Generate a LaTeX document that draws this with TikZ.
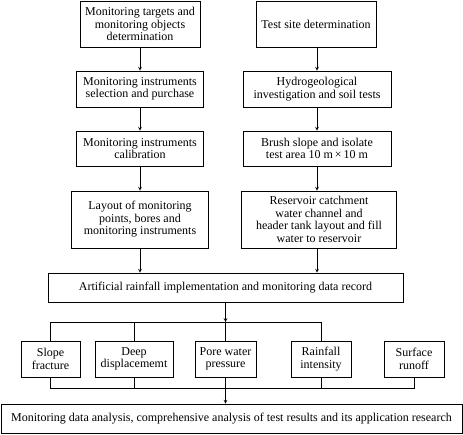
\documentclass[tikz,border=0pt]{standalone}
\usepackage{fontspec}
\setmainfont{Liberation Serif}
\begin{document}
\begin{tikzpicture}[x=1pt,y=-1pt,>=stealth,line width=0.7pt,
  box/.style={draw,align=center,inner sep=0pt,font=\fontsize{12}{12.5}\selectfont}]
  \useasboundingbox (0,0) rectangle (463,434);
  % left column
  \node[box,minimum width=120,minimum height=46] (tgt) at (140,24) {Monitoring targets and\\monitoring objects\\determination};
  \node[box,minimum width=127,minimum height=36] (sel) at (140,89) {Monitoring instruments\\selection and purchase};
  \node[box,minimum width=127,minimum height=35] (cal) at (140,148.5) {Monitoring instruments\\calibration};
  \node[box,minimum width=137,minimum height=57] (lay) at (140,219.5) {Layout of monitoring\\points, bores and\\monitoring instruments};
  % right column
  \node[box,minimum width=120,minimum height=46] (site) at (316,24) {Test site determination};
  \node[box,minimum width=148,minimum height=36] (hyd) at (317,89) {Hydrogeological\\investigation and soil tests};
  \node[box,minimum width=148,minimum height=35] (brush) at (317,148.5) {Brush slope and isolate\\test area 10 m\,×\,10 m};
  \node[box,minimum width=155,minimum height=57] (res) at (319,219.5) {Reservoir catchment\\water channel and\\header tank layout and fill\\water to reservoir};
  % rainfall and measured items
  \node[box,minimum width=355,minimum height=29] (rain) at (225.5,287.5) {Artificial rainfall implementation and monitoring data record};
  \node[box,minimum width=59,minimum height=36] (slope) at (50.5,359) {Slope\\fracture};
  \node[box,minimum width=78,minimum height=36] (deep) at (134,359) {Deep\\displacememt};
  \node[box,minimum width=61,minimum height=36] (pore) at (225.5,359) {Pore water\\pressure};
  \node[box,minimum width=60,minimum height=36] (rainf) at (321,359) {Rainfall\\intensity};
  \node[box,minimum width=60,minimum height=36] (surf) at (414,359) {Surface\\runoff};
  \node[box,minimum width=461,minimum height=29] (final) at (231.5,418.5) {Monitoring data analysis, comprehensive analysis of test results and its application research};
  \coordinate (tbus) at (0,322);
  \coordinate (bbus) at (0,388);
  % column arrows
  \draw[->] (tgt.south -| sel) -- (sel.north);
  \draw[->] (sel) -- (cal);
  \draw[->] (cal) -- (lay);
  \draw[->] (lay.south) -- (lay.south |- rain.north);
  \draw[->] (site.south -| brush) -- (hyd.north -| brush);
  \draw[->] (hyd) -- (brush);
  \draw[->] (brush.south) -- (res.north -| brush);
  \draw[->] (res.south -| brush) -- (rain.north -| brush);
  % buses
  \draw[->] (rain.south -| pore) -- (pore |- tbus);
  \draw (pore |- tbus) -- (pore.north);
  \draw (slope.north) |- (rainf.north |- tbus) -- (rainf.north);
  \draw (deep.north) -- (deep.north |- tbus);
  \draw (slope.south) |- (surf.south |- bbus) -- (surf.south);
  \draw (deep.south) -- (deep.south |- bbus);
  \draw (rainf.south) -- (rainf.south |- bbus);
  \draw (pore.south) -- (pore.south |- bbus);
  \draw[->] (pore.south |- bbus) -- (final.north -| pore);
\end{tikzpicture}
\end{document}
